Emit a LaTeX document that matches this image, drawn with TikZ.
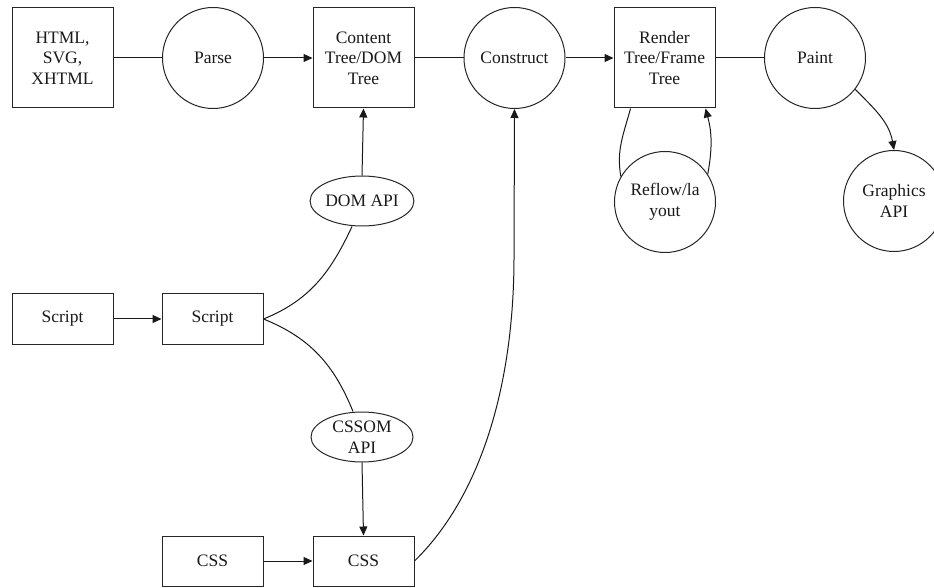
\documentclass[tikz,border=0pt]{standalone}
\usepackage{fontspec}
\setmainfont{Liberation Serif}
\usetikzlibrary{shapes.geometric,arrows.meta}
\begin{document}
\begin{tikzpicture}[x=1pt,y=1pt,
  every node/.style={font=\fontsize{17.5}{20.7}\selectfont, text=black!90, align=center, inner sep=0pt},
  rbox/.style={draw=black!85, line width=1pt, rectangle, minimum width=101pt, minimum height=100pt},
  sbox/.style={draw=black!85, line width=1pt, rectangle, minimum width=101pt, minimum height=50pt},
  circ/.style={draw=black!85, line width=1pt, circle, minimum size=101pt},
  ell/.style={draw=black!85, line width=1pt, ellipse, minimum width=102pt, minimum height=50pt},
  conn/.style={draw=black!90, line width=1pt},
  arr/.style={conn, -{Triangle[length=9pt,width=8pt]}}
]
\clip (0,0) rectangle (934,587);
\node[rbox] (html) at (62.5,529) {HTML,\\SVG,\\XHTML};
\node[circ] (parse) at (213,529) {Parse};
\node[rbox] (content) at (363.5,529) {Content\\Tree/DOM\\Tree};
\node[circ] (con) at (514.5,529) {Construct};
\node[rbox] (render) at (664.5,529) {Render\\Tree/Frame\\Tree};
\node[circ] (paint) at (815,529) {Paint};
\node[circ] (gr) at (894,386) {Graphics\\API};
\node[circ] (reflow) at (665,385) {Reflow/la\\yout};
\node[ell] (dom) at (362,386) {DOM API};
\node[ell] (cssom) at (362,150) {CSSOM\\API};
\node[sbox] (s1) at (62.5,268) {Script};
\node[sbox] (s2) at (212.5,268) {Script};
\node[sbox] (c1) at (212.5,26) {CSS};
\node[sbox] (c2) at (363.5,26) {CSS};

\draw[conn] (html) -- (parse);
\draw[arr] (parse) -- (content);
\draw[conn] (content) -- (con);
\draw[arr] (con) -- (render);
\draw[conn] (render) -- (paint);
\draw[arr] (paint.-38) to[out=-45,in=100] (gr.north);
\draw[conn] ([xshift=17pt]render.south west) to[out=-105,in=100] (reflow.150);
\draw[arr] (reflow.33) to[out=80,in=-75] ([xshift=-10pt]render.south east);
\draw[arr] (dom.north) -- (content.south);
\draw[arr] (s1) -- (s2);
\draw[arr] (c1) -- (c2);
\draw[conn] (s2.east) to[out=22,in=-115] ([xshift=-10pt]dom.south);
\draw[conn] (s2.east) to[out=-22,in=112] ([xshift=-9pt]cssom.north);
\draw[arr] (cssom.south) -- (c2.north);
\draw[arr] (c2.east) .. controls (480,90) and (514,200) .. (514,330) -- (con.south);
\end{tikzpicture}
\end{document}
